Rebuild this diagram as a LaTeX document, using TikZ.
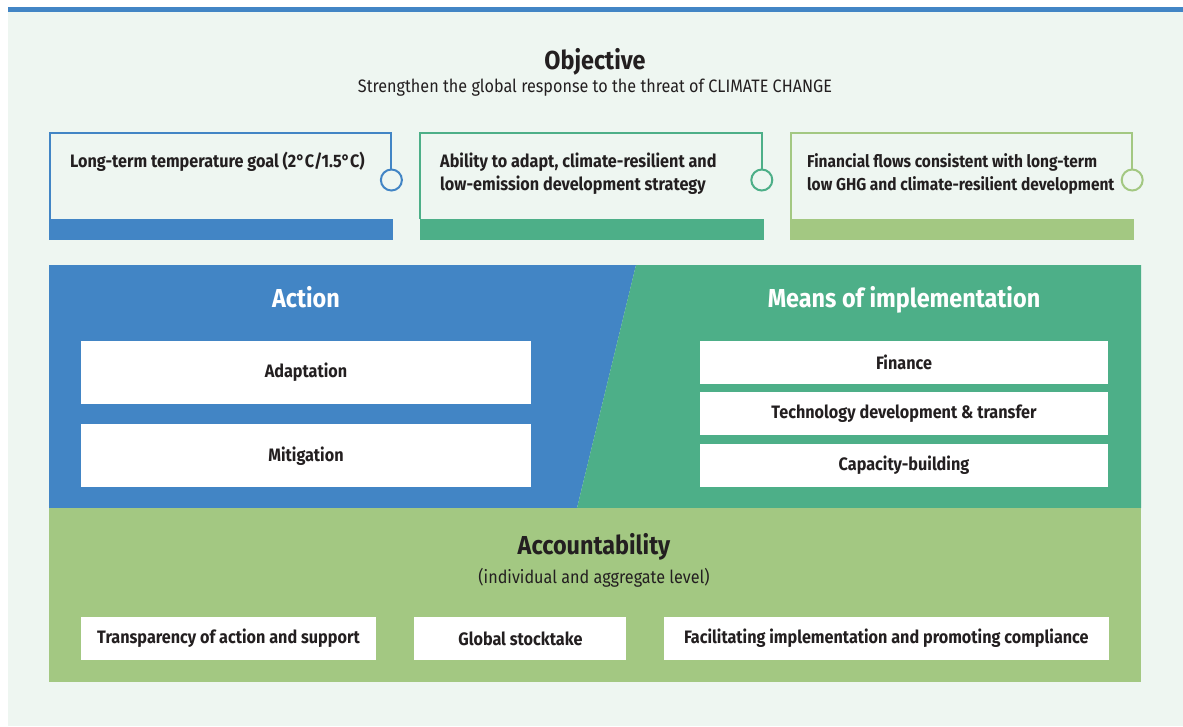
\documentclass[tikz,border=0pt]{standalone}
\usepackage{fontspec}
\setmainfont{Fira Sans}[FakeStretch=0.9]
\usetikzlibrary{positioning}
\definecolor{unblue}{RGB}{66,133,197}
\definecolor{ungreen}{RGB}{77,175,136}
\definecolor{unlime}{RGB}{163,200,130}
\definecolor{unmint}{RGB}{238,246,241}
\definecolor{untext}{RGB}{35,31,32}
\tikzset{
  bar/.style={fill=#1,minimum width=344pt,minimum height=21pt,inner sep=0pt,anchor=north west},
  knob/.style={circle,draw=#1,line width=2pt,minimum size=21pt,inner sep=0pt,fill=unmint},
  goal/.style={text=untext,font=\fontsize{18}{23}\selectfont\bfseries,align=left,anchor=west,inner sep=0pt},
  item/.style={fill=white,text=untext,font=\fontsize{18}{20}\selectfont\bfseries,inner sep=0pt,minimum height=43pt},
  heading/.style={font=\fontsize{26}{28}\selectfont\bfseries,text height=19pt,text depth=5pt},
  sub/.style={text=untext,font=\fontsize{18}{20}\selectfont}
}
\begin{document}
\begin{tikzpicture}[x=1pt,y=-1pt]
\useasboundingbox (0,0) rectangle (1183,726);
\fill[unmint] (8,12) rectangle (1183,726);
\fill[unblue] (8,7) rectangle (1183,12);

% objective
\node[heading,text=untext] (obj) at (595,62) {Objective};
\node[sub] (objsub) at (595,88) {Strengthen the global response to the threat of CLIMATE CHANGE};

% the three goals
\node[bar=unblue] (bar1) at (49,219) {};
\node[bar=ungreen] (bar2) [right=26pt of bar1] {};
\node[bar=unlime] (bar3) [right=26pt of bar2] {};
\node[knob=unblue] (k1) at ([shift={(-2,-39)}]bar1.north east) {};
\node[knob=ungreen] (k2) at ([shift={(-2,-39)}]bar2.north east) {};
\node[knob=unlime] (k3) at ([shift={(-2,-39)}]bar3.north east) {};
\draw[unblue,line width=2pt] ([xshift=1pt]bar1.north west) -- ++(0,-86) -| (k1.north);
\draw[ungreen,line width=2pt] ([xshift=1pt]bar2.north west) -- ++(0,-86) -| (k2.north);
\draw[unlime,line width=2pt] ([xshift=1pt]bar3.north west) -- ++(0,-86) -| (k3.north);
\node[goal] (g1) at (70,162) {Long-term temperature goal (2°C/1.5°C)};
\node[goal] (g2) at (440,174) {Ability to adapt, climate-resilient and\\low-emission development strategy};
\node[goal,font=\fontsize{17.2}{23}\selectfont\bfseries] (g3) at (807,174) {Financial flows consistent with long-term\\low GHG and climate-resilient development};

% action and means of implementation
\fill[unblue] (49,265) -- (636,265) -- (577,508) -- (49,508) -- cycle;
\fill[ungreen] (636,265) -- (1141,265) -- (1141,508) -- (577,508) -- cycle;
\node[heading,text=white] (action) at (306,300) {Action};
\node[heading,text=white] (means) at (904,300) {Means of implementation};
\node[item,minimum width=450pt,minimum height=63pt] (adapt) at (306,372.5) {Adaptation};
\node[item,minimum width=450pt,minimum height=63pt] (mitig) [below=20pt of adapt] {Mitigation};
\node[item,minimum width=408pt] (fin) at (904,362.5) {Finance};
\node[item,minimum width=408pt] (tech) [below=8pt of fin] {Technology development \& transfer};
\node[item,minimum width=408pt] (cap) [below=8pt of tech] {Capacity-building};

% accountability
\fill[unlime] (49,508) rectangle (1141,682);
\node[heading,text=untext] (acc) at (594,547) {Accountability};
\node[sub] (accsub) at (594,578) {(individual and aggregate level)};
\node[item,minimum width=295pt] (transp) at (228.5,638.5) {Transparency of action and support};
\node[item,minimum width=212pt] (stock) [right=38pt of transp] {Global stocktake};
\node[item,minimum width=445pt] (facil) [right=37pt of stock] {Facilitating implementation and promoting compliance};
\end{tikzpicture}
\end{document}
